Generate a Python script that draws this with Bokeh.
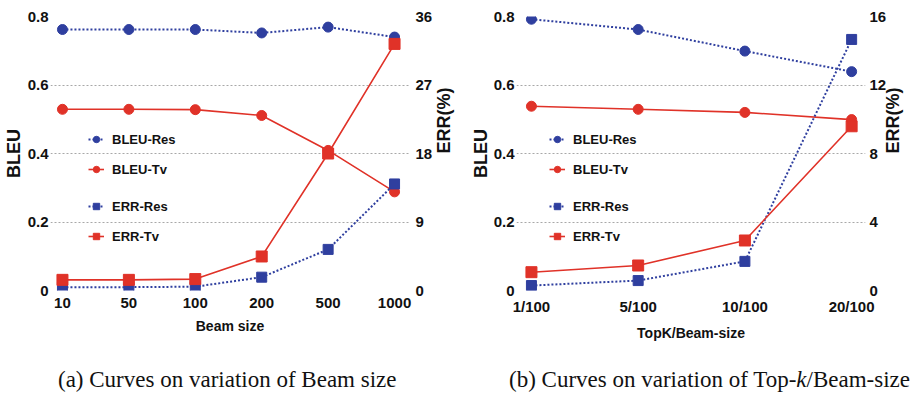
import math
from bokeh.plotting import figure
from bokeh.models import (Range1d, LinearAxis, FixedTicker, Legend, LegendItem, Div)
from bokeh.layouts import row, column
from bokeh.embed import file_html
from bokeh.resources import INLINE

# ---- data: panel (a) ----
beam_labels = ["10", "50", "100", "200", "500", "1000"]
a_bleu_res = [0.762, 0.762, 0.762, 0.752, 0.769, 0.740]
a_bleu_tv = [0.529, 0.529, 0.528, 0.511, 0.409, 0.288]
a_err_res = [0.44, 0.44, 0.5, 1.75, 5.4, 14.0]
a_err_tv = [1.4, 1.4, 1.5, 4.47, 18.0, 32.4]
a_err_ticks = [0, 9, 18, 27, 36]

# ---- data: panel (b) ----
topk_labels = ["1/100", "5/100", "10/100", "20/100"]
b_bleu_res = [0.792, 0.762, 0.699, 0.639]
b_bleu_tv = [0.538, 0.529, 0.520, 0.499]
b_err_res = [0.29, 0.58, 1.70, 14.66]
b_err_tv = [1.07, 1.46, 2.92, 9.59]
b_err_ticks = [0, 4, 8, 12, 16]

bleu_ticks = [0, 0.2, 0.4, 0.6, 0.8]

captions = ["(a) Curves on variation of Beam size",
            "(b) Curves on variation of Top-<i>k</i>/Beam-size"]

BLUE = "#2F3F9F"
RED = "#E03228"
INK = "#111111"
SANS = "Liberation Sans, Arial"
SERIF = "Liberation Serif, Times New Roman"
FIG_H = 350


def make_panel(labels, bleu_res, bleu_tv, err_res, err_tv, err_ticks, xlabel,
               width, bl, br, xpad_l, xpad_r, legend_x, l_std, l_lbl_std, r_std, r_lbl_std):
    n = len(labels)
    xs = list(range(n))
    p = figure(width=width, height=FIG_H, output_backend="svg", toolbar_location=None,
               x_range=Range1d(-xpad_l, n - 1 + xpad_r), y_range=Range1d(0, 0.8),
               min_border_left=bl, min_border_right=br, min_border_top=16,
               min_border_bottom=60)
    p.outline_line_color = None
    p.background_fill_color = "white"
    p.border_fill_color = "white"
    p.extra_y_ranges = {"err": Range1d(0, err_ticks[-1])}

    # grid
    p.xgrid.grid_line_color = None
    p.ygrid.grid_line_color = "#A8A8A8"
    p.ygrid.grid_line_dash = "2 2"
    p.ygrid.grid_line_width = 1
    p.ygrid.ticker = FixedTicker(ticks=bleu_ticks)

    # axes
    xa = p.xaxis[0]
    xa.ticker = FixedTicker(ticks=xs)
    xa.major_label_overrides = {i: l for i, l in enumerate(labels)}
    xa.axis_label = xlabel
    ya = p.yaxis[0]
    ya.ticker = FixedTicker(ticks=bleu_ticks)
    ya.major_label_overrides = {t: "%g" % t for t in bleu_ticks}
    ya.axis_label = "BLEU"
    ra = LinearAxis(y_range_name="err", ticker=FixedTicker(ticks=err_ticks),
                    axis_label="ERR(%)")
    p.add_layout(ra, "right")
    for ax in (xa, ya, ra):
        ax.axis_line_color = None
        ax.major_tick_line_color = None
        ax.minor_tick_line_color = None
        ax.major_tick_out = 0
        ax.major_tick_in = 0
        ax.major_label_text_font = SANS
        ax.major_label_text_font_style = "bold"
        ax.major_label_text_font_size = "15px"
        ax.major_label_text_color = INK
        ax.axis_label_text_font = SANS
        ax.axis_label_text_font_style = "bold"
        ax.axis_label_text_color = INK
    for ax in (ya, ra):
        ax.axis_label_text_font_size = "18px"
    ya.major_label_standoff = l_std
    ya.axis_label_standoff = l_lbl_std
    ra.major_label_standoff = r_std
    ra.axis_label_standoff = r_lbl_std
    # right title reads bottom-to-top, like the left one
    ra.axis_label_orientation = math.pi / 2
    xa.axis_label_text_font_size = "14px"
    xa.major_label_standoff = 7
    xa.axis_label_standoff = 7

    # series
    l1 = p.line(xs, bleu_res, color=BLUE, line_width=2, line_dash="2 2")
    m1 = p.scatter(xs, bleu_res, marker="circle", size=10, color=BLUE)
    l2 = p.line(xs, bleu_tv, color=RED, line_width=1.6)
    m2 = p.scatter(xs, bleu_tv, marker="circle", size=10, color=RED)
    l3 = p.line(xs, err_res, color=BLUE, line_width=2, line_dash="2 2", y_range_name="err")
    m3 = p.scatter(xs, err_res, marker="square", size=10, color=BLUE, y_range_name="err")
    l4 = p.line(xs, err_tv, color=RED, line_width=1.6, y_range_name="err")
    m4 = p.scatter(xs, err_tv, marker="square", size=11, color=RED, y_range_name="err")

    def mk_legend(items, loc):
        lg = Legend(items=items, location=loc, orientation="vertical")
        lg.background_fill_alpha = 0
        lg.border_line_color = None
        lg.padding = 0
        lg.margin = 0
        lg.spacing = 14
        lg.glyph_width = 16
        lg.glyph_height = 16
        lg.label_height = 16
        lg.label_standoff = 8
        lg.label_text_font = SANS
        lg.label_text_font_style = "bold"
        lg.label_text_font_size = "13px"
        lg.label_text_color = INK
        lg.label_text_baseline = "middle"
        p.add_layout(lg)

    mk_legend([LegendItem(label="BLEU-Res", renderers=[l1, m1]),
               LegendItem(label="BLEU-Tv", renderers=[l2, m2])], (legend_x, 113))
    mk_legend([LegendItem(label="ERR-Res", renderers=[l3, m3]),
               LegendItem(label="ERR-Tv", renderers=[l4, m4])], (legend_x, 46))
    return p


W1, W2 = 467, 449
pa = make_panel(beam_labels, a_bleu_res, a_bleu_tv, a_err_res, a_err_tv, a_err_ticks,
                "Beam size", W1, 48, 57, 0.18, 0.225, 38, 2, 1, 6, 9)
pb = make_panel(topk_labels, b_bleu_res, b_bleu_tv, b_err_res, b_err_tv, b_err_ticks,
                "TopK/Beam-size", W2, 45, 50, 0.14, 0.13, 33, 2, 0, 4, 4)


def cap_div(html, width, pad_left):
    return Div(text=html, width=width, height=396 - FIG_H, margin=(0, 0, 0, 0),
               styles={"font-family": SERIF, "font-size": "23px", "color": INK,
                       "white-space": "nowrap", "line-height": "24px",
                       "padding-top": "18px", "padding-left": "%dpx" % pad_left,
                       "box-sizing": "border-box", "overflow": "visible"})


da = cap_div(captions[0], W1, 58)
db = cap_div(captions[1], W2, 42)

layout = column(row(pa, pb), row(da, db))
open("out.html", "w").write(file_html(layout, INLINE))
